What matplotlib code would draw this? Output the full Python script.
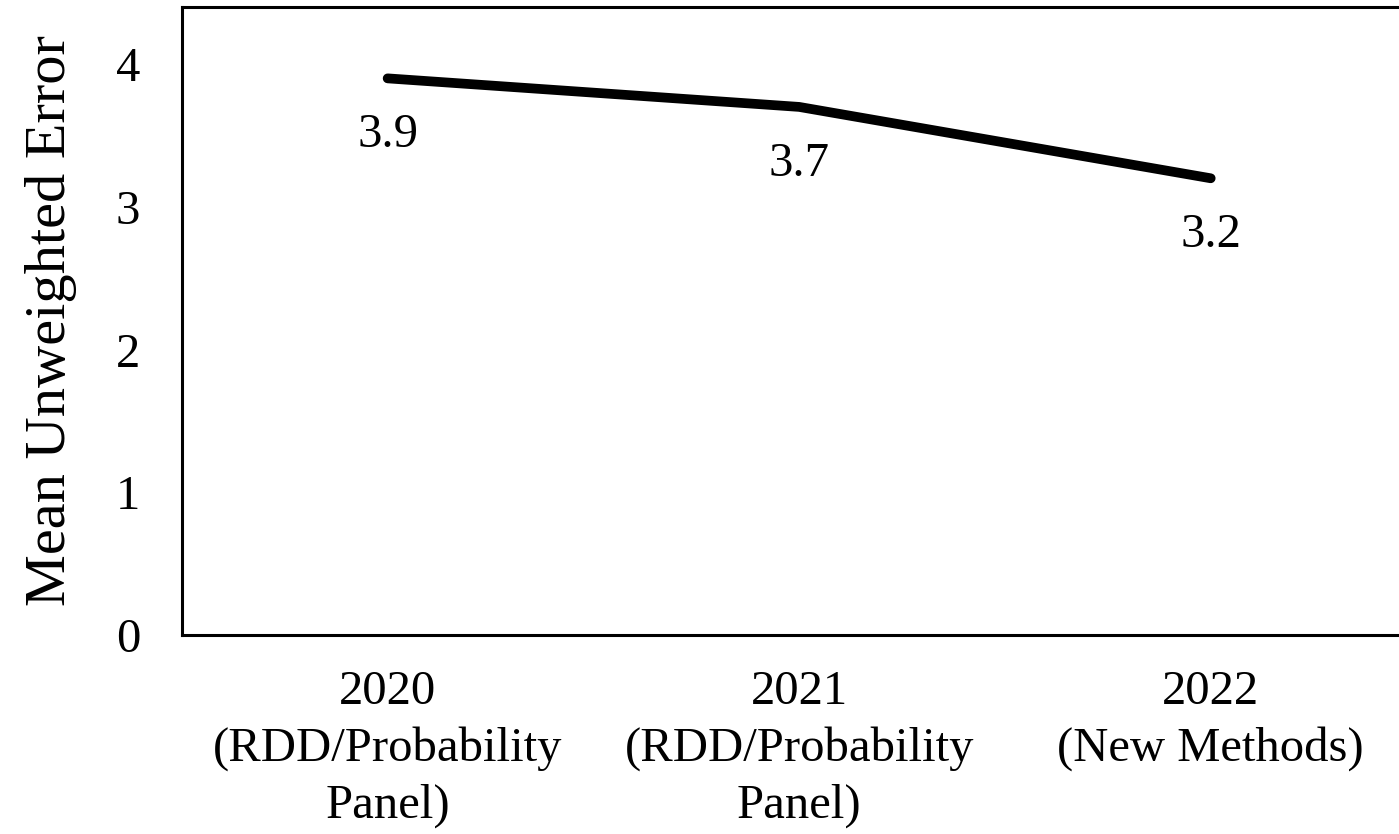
import matplotlib
matplotlib.use("Agg")
import matplotlib.pyplot as plt

years = ["2020\n(RDD/Probability\nPanel)", "2021\n(RDD/Probability\nPanel)", "2022\n(New Methods)"]
mean_error = [3.9, 3.7, 3.2]
y_ticks = [0, 1, 2, 3, 4]

plt.rcParams["font.family"] = ["Liberation Serif", "DejaVu Serif"]

fig = plt.figure(figsize=(13.99, 8.34), dpi=100)
ax = fig.add_axes([0.130, 0.2386, 0.8825, 0.753])

x = list(range(len(mean_error)))
ax.plot(x, mean_error, color="black", linewidth=7, solid_capstyle="round",
        solid_joinstyle="round")

for xi, v in zip(x, mean_error):
    ax.annotate(f"{v:.1f}", (xi, v), xytext=(0, -25), textcoords="offset points",
                ha="center", va="top", fontsize=35)

ax.set_xlim(-0.5, 2.5)
ax.set_ylim(0, 4.4)
ax.set_xticks(x)
ax.set_xticklabels(years, fontsize=35, linespacing=1.36)
ax.set_yticks(y_ticks)
ax.set_yticklabels([str(t) for t in y_ticks], fontsize=35)
ax.tick_params(axis="both", length=0)
ax.tick_params(axis="y", pad=30)
ax.tick_params(axis="x", pad=25)
for s in ax.spines.values():
    s.set_linewidth(2.2)
    s.set_color("black")

ax.set_ylabel("Mean Unweighted Error", fontsize=42, labelpad=28)

fig.savefig("out.png", dpi=100)
